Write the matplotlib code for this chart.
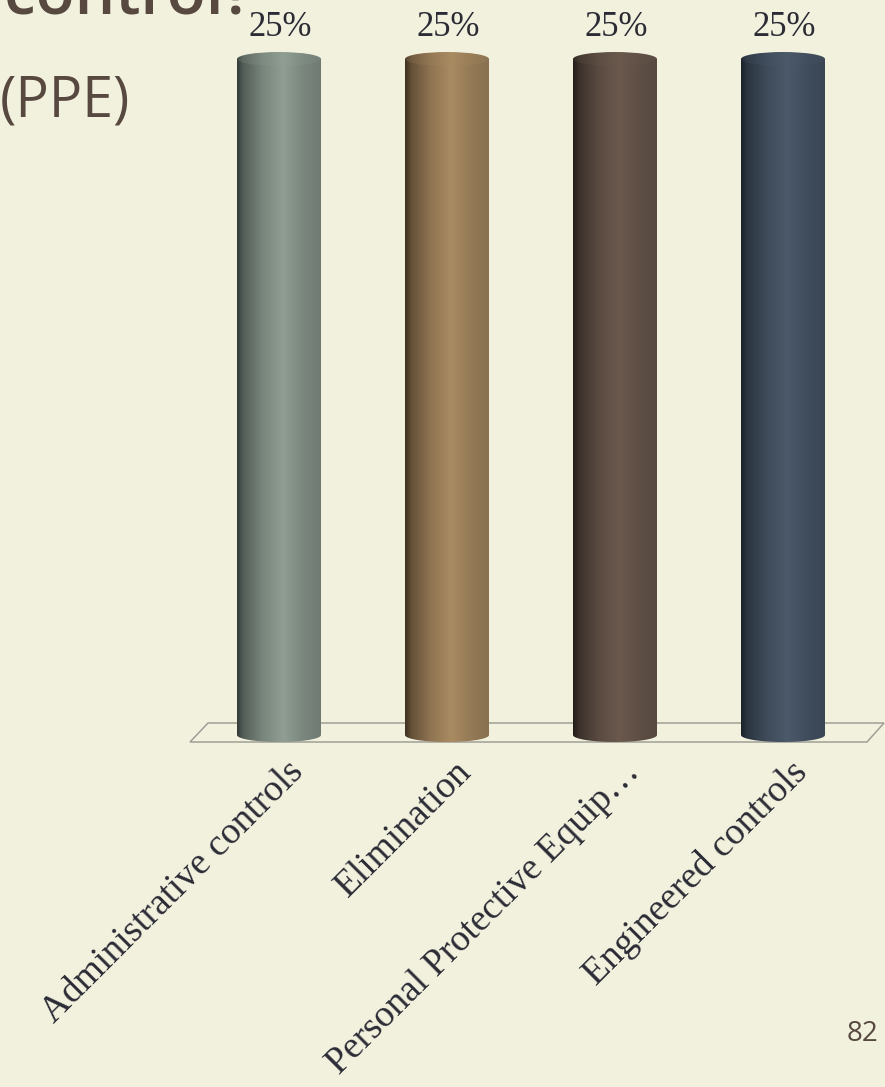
import numpy as np
import matplotlib.pyplot as plt
from matplotlib.path import Path
from matplotlib.patches import PathPatch, Ellipse, Polygon
from matplotlib.colors import to_rgb

categories = ["Administrative controls", "Elimination",
              "Personal Protective Equip\u2026", "Engineered controls"]
percent = [25, 25, 25, 25]

# shading for each cylinder: (dark edge, highlight, right edge)
shades = [("#323a37", "#909e93", "#6e7a72"),
          ("#3e2f20", "#a98b62", "#88704f"),
          ("#231d1a", "#6b594d", "#574941"),
          ("#1a2129", "#4b596a", "#3a4655")]

bg = "#F2F1DE"
ink = "#574840"
label_ink = "#2b2b35"

W, H = 885, 1087
fig = plt.figure(figsize=(W / 100, H / 100), dpi=100, facecolor=bg)

# slide text around the chart
fig.text(253 / W, 1 - 14 / H, "Hierarchy of control?", ha="right", va="baseline",
         fontsize=46, color=ink, family="Open Sans", fontweight="semibold")
fig.text(0 / W, 1 - 102 / H, "(PPE)", ha="left", va="center",
         fontsize=40, color=ink, family="Open Sans")
fig.text(878 / W, 1 - 1034 / H, "82", ha="right", va="center",
         fontsize=20, color=ink, family="Open Sans")

ax = fig.add_axes([195 / W, (H - 735) / H, 672 / W, 676 / H])
ax.set_facecolor(bg)
ax.set_xlim(-0.5, len(categories) - 0.5)
ax.set_ylim(0, max(percent))
ax.axis("off")

bbox = ax.get_window_extent()
px_x = (len(categories)) / bbox.width
px_y = max(percent) / bbox.height

bar_w = 0.5
ry = 7 * px_y

# floor plane under the bars
x_lo, x_hi = -0.5 - 5 * px_x, len(categories) - 0.5
floor = Polygon([(x_lo, -7 * px_y), (x_hi, -7 * px_y),
                 (x_hi + 17 * px_x, 12 * px_y), (x_lo + 18 * px_x, 12 * px_y)],
                closed=True, facecolor="none", edgecolor="#a09f97", lw=1.1,
                clip_on=False, zorder=1)
ax.add_patch(floor)


def gradient(dark, light, right, lift=0.0):
    t = np.linspace(0, 1, 200)
    mix = np.interp(t, [0, 0.07, 0.3, 0.55, 0.8, 1.0],
                    [0.0, 0.35, 0.75, 1.0, 0.8, 0.7])
    mix = lift + (1 - lift) * mix
    d, l, r = (np.array(to_rgb(c)) for c in (dark, light, right))
    cols = np.where(t[:, None] < 0.55,
                    d + mix[:, None] * (l - d),
                    r + (mix[:, None] - 0.7) / 0.3 * (l - r))
    return np.clip(cols, 0, 1)[None, :, :]


for i, (v, (dk, lt, rt)) in enumerate(zip(percent, shades)):
    x0, x1 = i - bar_w / 2, i + bar_w / 2
    th = np.linspace(np.pi, 2 * np.pi, 60)
    arc = np.column_stack([i + bar_w / 2 * np.cos(th), ry * np.sin(th)])
    verts = np.vstack([[x0, v], arc, [x1, v], [x0, v]])
    body = PathPatch(Path(verts), facecolor="none", edgecolor="none", clip_on=False)
    ax.add_patch(body)
    im = ax.imshow(gradient(dk, lt, rt), extent=(x0, x1, -ry, v),
                   aspect="auto", zorder=2, interpolation="bicubic")
    im.set_clip_path(body)
    im.set_clip_box(fig.bbox)

    cap = Ellipse((i, v), bar_w, 2 * ry, facecolor="none", edgecolor="none",
                  clip_on=False)
    ax.add_patch(cap)
    im2 = ax.imshow(gradient(dk, lt, rt, lift=0.2), extent=(x0, x1, v - ry, v + ry),
                    aspect="auto", zorder=3, interpolation="bicubic")
    im2.set_clip_path(cap)
    im2.set_clip_box(fig.bbox)

    ax.annotate(f"{v}%", xy=(i, v), xytext=(1, 23), textcoords="offset points",
                ha="center", va="center", fontsize=25, color=label_ink,
                family="Liberation Serif", annotation_clip=False)
    ax.annotate(categories[i], xy=(i, 0), xytext=(5, -14), textcoords="offset points",
                ha="right", va="top", rotation=45, rotation_mode="anchor",
                fontsize=27, color=label_ink, family="Liberation Serif",
                annotation_clip=False)

ax.set_xlim(-0.5, len(categories) - 0.5)
ax.set_ylim(0, max(percent))

fig.savefig("out.png", dpi=100, facecolor=bg)
